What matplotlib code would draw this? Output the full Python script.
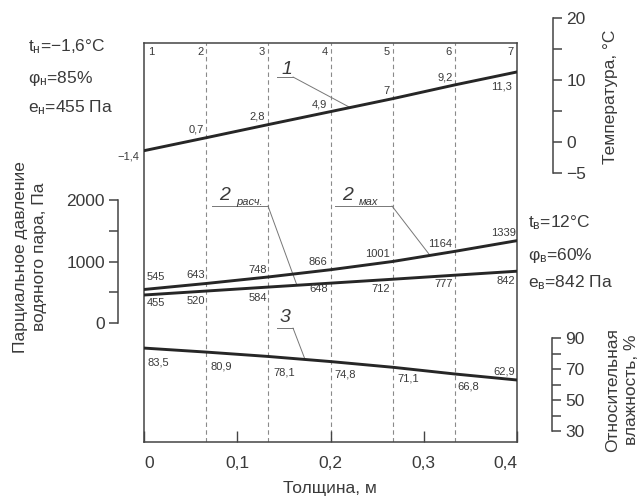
import numpy as np
import matplotlib
matplotlib.use("Agg")
import matplotlib.pyplot as plt

plt.rcParams['font.family'] = ['Liberation Sans', 'DejaVu Sans']
plt.rcParams['mathtext.fontset'] = 'custom'
plt.rcParams['mathtext.rm'] = 'Liberation Sans'
plt.rcParams['mathtext.it'] = 'Liberation Sans:italic'
plt.rcParams['mathtext.default'] = 'regular'

# ---------------- data ----------------
thickness = [0.0, 0.067, 0.133, 0.2, 0.267, 0.333, 0.4]
section_labels = ['1', '2', '3', '4', '5', '6', '7']
temperature = [-1.4, 0.7, 2.8, 4.9, 7.0, 9.2, 11.3]
e_max = [545, 643, 748, 866, 1001, 1164, 1339]
e_calc = [455, 520, 584, 648, 712, 777, 842]
humidity = [83.5, 80.9, 78.1, 74.8, 71.1, 66.8, 62.9]

x_ticks = [0, 0.1, 0.2, 0.3, 0.4]
x_ticklabels = ['0', '0,1', '0,2', '0,3', '0,4']
temp_major = [-5, 0, 10, 20]
temp_minor = [5, 15]
press_major = [0, 1000, 2000]
press_minor = [500, 1500]
hum_major = [30, 50, 70, 90]
hum_minor = [40, 60, 80]

# ---------------- layout (pixels) ----------------
W, H = 642, 498
L, R, T, B = 144, 517, 43, 442
TXT = '#3a3a3a'
LINE = '#262626'


def fx(px):
    return px / W


def fy(py):
    return 1 - py / H


def afx(px):
    return (px - L) / (R - L)


def afy(py):
    return (B - py) / (B - T)


def fmt(v):
    s = f"{v:g}".replace('.', ',')
    return s.replace('-', '−')


fig = plt.figure(figsize=(W / 100, H / 100), dpi=100)
fig.patch.set_facecolor('white')

ax = fig.add_axes([fx(L), fy(B), (R - L) / W, (B - T) / H])
ax.set_xlim(0, 0.4)
ax.set_ylim(0, 1)
ax.set_yticks([])
ax.set_xticks(x_ticks)
ax.set_xticklabels(x_ticklabels)
ax.tick_params(axis='x', direction='in', length=8, width=1.0, color='#444',
               labelsize=12.5, labelcolor=TXT, pad=10)
tl = ax.get_xticklabels()
tl[0].set_ha('left')
tl[-1].set_ha('right')
for s in ax.spines.values():
    s.set_color('#444')
    s.set_linewidth(1.1)

for xv in thickness[1:-1]:
    ax.axvline(xv, color='#8a8a8a', lw=0.8, ls=(0, (4, 3)), zorder=1)

# section numbers
for i, (xv, lab) in enumerate(zip(thickness, section_labels)):
    if i == 0:
        ax.annotate(lab, (xv, 1), xycoords=('data', 'axes fraction'),
                    xytext=(4, -9), textcoords='offset pixels', ha='left',
                    va='center', fontsize=8, color=TXT)
    else:
        ax.annotate(lab, (xv, 1), xycoords=('data', 'axes fraction'),
                    xytext=(-3, -9), textcoords='offset pixels', ha='right',
                    va='center', fontsize=8, color=TXT)


def data_lims(v_top, px_top, v_bot, px_bot):
    k = (v_top - v_bot) / (px_bot - px_top)
    return v_bot - (B - px_bot) * k, v_top + (px_top - T) * k


def make_twin(lims):
    a = ax.twinx()
    a.set_ylim(*lims)
    a.patch.set_visible(False)
    for s in a.spines.values():
        s.set_visible(False)
    a.set_yticks([])
    return a


def scale_axis(x_px, px_top, px_bot, vmin, vmax, side, major, minor):
    w = 0.01
    if side == 'right':
        rect = [fx(x_px) - w, fy(px_bot), w, (px_bot - px_top) / H]
    else:
        rect = [fx(x_px), fy(px_bot), w, (px_bot - px_top) / H]
    a = fig.add_axes(rect)
    a.patch.set_visible(False)
    for s in a.spines.values():
        s.set_visible(False)
    a.spines[side].set_visible(True)
    a.spines[side].set_color('#444')
    a.spines[side].set_linewidth(1.1)
    a.set_ylim(vmin, vmax)
    a.set_xticks([])
    a.yaxis.set_ticks_position(side)
    a.set_yticks(major)
    a.set_yticks(minor, minor=True)
    a.tick_params(axis='y', which='both', direction='out', length=6.5,
                  width=1.1, color='#444', labelsize=12.5, labelcolor=TXT, pad=3)
    return a


# temperature
t_top_px, t_bot_px = 18, 173
scale_axis(553, t_top_px, t_bot_px, -5, 20, 'right', temp_major, temp_minor)
ax_t = make_twin(data_lims(20, t_top_px, -5, t_bot_px))
# pressure
p_top_px, p_bot_px = 200, 323
scale_axis(118, p_top_px, p_bot_px, 0, 2000, 'left', press_major, press_minor)
ax_p = make_twin(data_lims(2000, p_top_px, 0, p_bot_px))
# humidity
h_top_px, h_bot_px = 338, 431
scale_axis(552, h_top_px, h_bot_px, 30, 90, 'right', hum_major, hum_minor)
ax_h = make_twin(data_lims(90, h_top_px, 30, h_bot_px))

ax_t.plot(thickness, temperature, color=LINE, lw=2.1, zorder=3)
ax_p.plot(thickness, e_max, color=LINE, lw=2.1, zorder=3)
ax_p.plot(thickness, e_calc, color=LINE, lw=2.1, zorder=3)
ax_h.plot(thickness, humidity, color=LINE, lw=2.1, zorder=3)


def put_labels(a, values, offsets):
    for xv, v, (dx, dy, ha) in zip(thickness, values, offsets):
        a.annotate(fmt(v), (xv, v), xytext=(dx, dy), textcoords='offset pixels',
                   ha=ha, va='center', fontsize=8, color=TXT)


put_labels(ax_t, temperature,
           [(-5, -6, 'right'), (-3, 8, 'right'), (-3, 8, 'right'), (-3, 7, 'right'),
            (-3, 8, 'right'), (-2, 7, 'right'), (-5, -15, 'right')])
put_labels(ax_p, e_max,
           [(3, 12, 'left'), (-1, 8, 'right'), (-1, 7, 'right'), (-3, 8, 'right'),
            (-3, 7, 'right'), (-2, 7, 'right'), (-1, 8, 'right')])
put_labels(ax_p, e_calc,
           [(3, -8, 'left'), (-1, -10, 'right'), (-1, -11, 'right'), (-3, -6, 'right'),
            (-3, -10, 'right'), (-2, -9, 'right'), (-2, -10, 'right')])
put_labels(ax_h, humidity,
           [(4, -14, 'left'), (4, -14, 'left'), (5, -16, 'left'), (4, -13, 'left'),
            (4, -11, 'left'), (3, -13, 'left'), (-2, 9, 'right')])


def leader(a, values, x_end, px1, px2, py):
    ax.plot([afx(px1), afx(px2)], [afy(py), afy(py)], transform=ax.transAxes,
            color='#777', lw=0.7, zorder=2)
    y_end = np.interp(x_end, thickness, values)
    ax.annotate('', xy=(x_end, y_end), xycoords=a.transData,
                xytext=(afx(px2), afy(py)), textcoords=ax.transAxes,
                arrowprops=dict(arrowstyle='-', lw=0.7, color='#777',
                                shrinkA=0, shrinkB=0), zorder=2)


leader(ax_t, temperature, 0.221, 277, 293, 77)
leader(ax_p, e_calc, 0.164, 212, 268, 206)
leader(ax_p, e_max, 0.3067, 335, 392, 206)
leader(ax_h, humidity, 0.1727, 277, 293, 328)

fig.text(fx(287), fy(69), '1', fontsize=14, style='italic', color=TXT, ha='center', va='center')
fig.text(fx(225), fy(195), '2', fontsize=14, style='italic', color=TXT, ha='center', va='center')
fig.text(fx(250), fy(202), 'расч.', fontsize=8, style='italic', color=TXT, ha='center', va='center')
fig.text(fx(348), fy(195), '2', fontsize=14, style='italic', color=TXT, ha='center', va='center')
fig.text(fx(369), fy(202), 'мах', fontsize=8, style='italic', color=TXT, ha='center', va='center')
fig.text(fx(285), fy(318), '3', fontsize=14, style='italic', color=TXT, ha='center', va='center')

# condition texts
fig.text(fx(28), fy(47), 't$_{н}$=−1,6°C', fontsize=12.5, color=TXT, ha='left', va='center')
fig.text(fx(28), fy(78), 'φ$_{н}$=85%', fontsize=12.5, color=TXT, ha='left', va='center')
fig.text(fx(28), fy(108), 'e$_{н}$=455 Па', fontsize=12.5, color=TXT, ha='left', va='center')
fig.text(fx(528), fy(223), 't$_{в}$=12°C', fontsize=12.5, color=TXT, ha='left', va='center')
fig.text(fx(528), fy(255), 'φ$_{в}$=60%', fontsize=12.5, color=TXT, ha='left', va='center')
fig.text(fx(528), fy(283), 'e$_{в}$=842 Па', fontsize=12.5, color=TXT, ha='left', va='center')

# axis titles
fig.text(fx(30), fy(257), 'Парциальное давление\nводяного пара, Па', rotation=90,
         fontsize=12.5, color=TXT, ha='center', va='center', linespacing=1.35, multialignment='center')
fig.text(fx(611), fy(97), 'Температура, °C', rotation=90, fontsize=12.5, color=TXT,
         ha='center', va='center')
fig.text(fx(622), fy(390), 'Относительная\nвлажность, %', rotation=90, fontsize=12.5,
         color=TXT, ha='center', va='center', linespacing=1.35, multialignment='center')
fig.text(fx(330), fy(488), 'Толщина, м', fontsize=12.5, color=TXT, ha='center', va='center')

fig.savefig('out.png', dpi=100, facecolor='white')
